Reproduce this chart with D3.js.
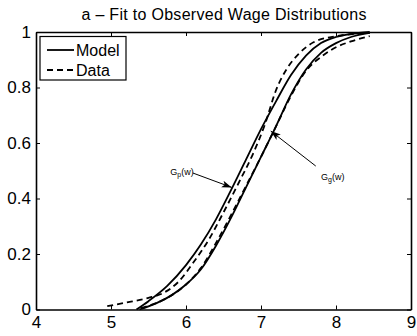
<!DOCTYPE html>
<html>
<head>
<meta charset="utf-8">
<script src="https://cdn.jsdelivr.net/npm/d3@7"></script>
<style>
  body { margin: 0; background: #fff; }
  text { font-family: "Liberation Sans", Arial, Helvetica, sans-serif; }
</style>
</head>
<body>
<svg id="chart" width="417" height="336"></svg>
<script>
// [wage, cdf]
const modelP = [[5.34, 0], [5.5, 0.03], [5.75, 0.085], [6.0, 0.16], [6.2, 0.235], [6.4, 0.325],
  [6.6, 0.43], [6.8, 0.54], [7.0, 0.65], [7.2, 0.75], [7.4, 0.845], [7.6, 0.915],
  [7.8, 0.96], [8.0, 0.982], [8.2, 0.993], [8.45, 1.0]];
const modelG = [[5.38, 0], [5.6, 0.022], [5.8, 0.05], [6.0, 0.09], [6.2, 0.145], [6.4, 0.23],
  [6.6, 0.33], [6.8, 0.44], [7.0, 0.55], [7.2, 0.66], [7.4, 0.775], [7.6, 0.865],
  [7.8, 0.925], [8.0, 0.96], [8.2, 0.982], [8.45, 0.997]];
const dataP = [[4.95, 0.012], [5.2, 0.025], [5.5, 0.042], [5.7, 0.06], [5.9, 0.1], [6.1, 0.17],
  [6.3, 0.25], [6.5, 0.35], [6.7, 0.455], [6.9, 0.565], [7.05, 0.665], [7.2, 0.79],
  [7.35, 0.87], [7.5, 0.92], [7.7, 0.963], [8.0, 0.985], [8.45, 0.996]];
const dataG = [[5.4, 0.005], [5.7, 0.035], [6.0, 0.09], [6.2, 0.15], [6.4, 0.24], [6.6, 0.34],
  [6.8, 0.445], [7.0, 0.55], [7.2, 0.66], [7.4, 0.77], [7.6, 0.86], [7.8, 0.91],
  [8.0, 0.945], [8.2, 0.966], [8.45, 0.985]];

const xTicks = [4, 5, 6, 7, 8, 9];
const yTicks = [0, 0.2, 0.4, 0.6, 0.8, 1];
const title = "a \u2013 Fit to Observed Wage Distributions";

const svg = d3.select('#chart');

const box = { left: 36, right: 411, top: 32, bottom: 309.5 };

const x = d3.scaleLinear().domain([4, 9]).range([box.left, box.right]);
const y = d3.scaleLinear().domain([0, 1]).range([box.bottom, box.top]);

// arrow head
svg.append('defs').append('marker')
    .attr('id', 'head')
    .attr('viewBox', '0 0 10 10')
    .attr('refX', 10).attr('refY', 5)
    .attr('markerWidth', 10).attr('markerHeight', 10)
    .attr('markerUnits', 'userSpaceOnUse')
    .attr('orient', 'auto')
    .append('path')
    .attr('d', 'M0,1.5 L10,5 L0,8.5 L2.5,5 Z')
    .attr('fill', '#000');

// axes, ticks pointing inward on all four sides
function styleAxis(g) {
    g.select('.domain').attr('stroke-width', 1.6);
    g.selectAll('.tick line').attr('stroke-width', 1);
    g.selectAll('.tick text').attr('font-size', 17).attr('fill', '#000');
}

svg.append('g')
    .attr('transform', `translate(0, ${box.bottom})`)
    .call(d3.axisBottom(x).tickValues(xTicks).tickSizeInner(-4).tickSizeOuter(0).tickPadding(6)
        .tickFormat(d3.format('d')))
    .call(styleAxis);

svg.append('g')
    .attr('transform', `translate(0, ${box.top})`)
    .call(d3.axisTop(x).tickValues(xTicks).tickSizeInner(-4).tickSizeOuter(0).tickFormat(''))
    .call(styleAxis);

svg.append('g')
    .attr('transform', `translate(${box.left}, 0)`)
    .call(d3.axisLeft(y).tickValues(yTicks).tickSizeInner(-4).tickSizeOuter(0).tickPadding(5)
        .tickFormat(d => d === 0 || d === 1 ? d3.format('d')(d) : d3.format('.1f')(d)))
    .call(styleAxis);

svg.append('g')
    .attr('transform', `translate(${box.right}, 0)`)
    .call(d3.axisRight(y).tickValues(yTicks).tickSizeInner(-4).tickSizeOuter(0).tickFormat(''))
    .call(styleAxis);

// curves
const line = d3.line()
    .x(d => x(d[0]))
    .y(d => y(d[1]))
    .curve(d3.curveMonotoneX);

[modelP, modelG].forEach(s => {
    svg.append('path')
        .attr('d', line(s))
        .attr('fill', 'none')
        .attr('stroke', '#000')
        .attr('stroke-width', 1.8);
});

[dataP, dataG].forEach(s => {
    svg.append('path')
        .attr('d', line(s))
        .attr('fill', 'none')
        .attr('stroke', '#000')
        .attr('stroke-width', 1.8)
        .attr('stroke-dasharray', '6,4');
});

// annotations
function label(px, py, main, sub) {
    const t = svg.append('text')
        .attr('x', x(px)).attr('y', y(py))
        .attr('font-size', 9)
        .attr('fill', '#000');
    t.append('tspan').text(main);
    t.append('tspan').attr('font-size', 7).attr('dy', 2.5).text(sub);
    t.append('tspan').attr('dy', -2.5).text('(w)');
}

function arrow(x1, y1, x2, y2) {
    svg.append('line')
        .attr('x1', x(x1)).attr('y1', y(y1))
        .attr('x2', x(x2)).attr('y2', y(y2))
        .attr('stroke', '#000')
        .attr('stroke-width', 1)
        .attr('marker-end', 'url(#head)');
}

label(5.79, 0.486, 'G', 'p');
arrow(6.09, 0.492, 6.61, 0.44);
label(7.80, 0.468, 'G', 'g');
arrow(7.73, 0.517, 7.13, 0.643);

// legend
const legend = svg.append('g');
legend.append('rect')
    .attr('x', 40).attr('y', 36.5)
    .attr('width', 86).attr('height', 43.5)
    .attr('fill', '#fff')
    .attr('stroke', '#000')
    .attr('stroke-width', 1.2);

[['Model', null], ['Data', '6,4']].forEach((d, i) => {
    const ly = 50 + i * 20;
    legend.append('line')
        .attr('x1', 47).attr('x2', 74)
        .attr('y1', ly).attr('y2', ly)
        .attr('stroke', '#000')
        .attr('stroke-width', 1.8)
        .attr('stroke-dasharray', d[1]);
    legend.append('text')
        .attr('x', 76).attr('y', ly + 6)
        .attr('font-size', 16)
        .text(d[0]);
});

// title
svg.append('text')
    .attr('x', 224).attr('y', 20)
    .attr('text-anchor', 'middle')
    .attr('font-size', 16)
    .attr('textLength', 285)
    .attr('lengthAdjust', 'spacing')
    .text(title);
</script>
</body>
</html>
